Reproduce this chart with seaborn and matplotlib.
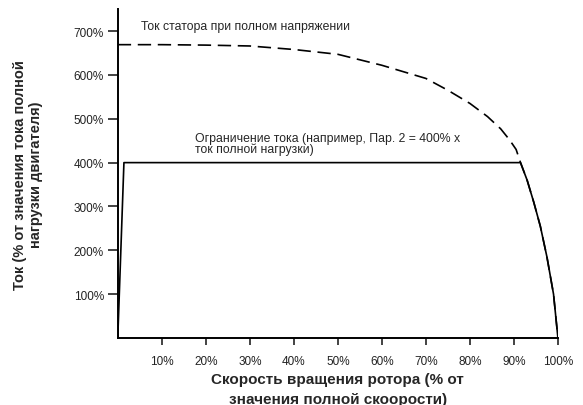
import matplotlib
matplotlib.use("Agg")
import matplotlib.pyplot as plt
import seaborn as sns
import pandas as pd

# данные
speed_stator = [0, 10, 20, 30, 40, 50, 60, 70, 75, 80, 84, 87, 89, 90.5, 91.5, 93, 94.5, 96, 97.5, 99, 100]
current_stator = [669, 669, 668, 666, 658, 647, 622, 592, 565, 535, 505, 477, 452, 430, 400, 360, 310, 255, 185, 100, 0]

speed_limit = [0, 1.4, 91.5, 93, 94.5, 96, 97.5, 99, 100]
current_limit = [0, 400, 400, 360, 310, 255, 185, 100, 0]

x_ticks = [10, 20, 30, 40, 50, 60, 70, 80, 90, 100]
y_ticks = [100, 200, 300, 400, 500, 600, 700]

sns.set_theme(style="ticks")
plt.rcParams['font.family'] = ['Liberation Sans', 'DejaVu Sans']

fig = plt.figure(figsize=(5.83, 4.06), dpi=100)
ax = fig.add_axes([0.202, 0.165, 0.755, 0.81])

df_s = pd.DataFrame({'speed': speed_stator, 'current': current_stator})
df_l = pd.DataFrame({'speed': speed_limit, 'current': current_limit})

sns.lineplot(data=df_s, x='speed', y='current', sort=False, ax=ax, color='black',
             linewidth=1.2, linestyle=(0, (8, 4)))
sns.lineplot(data=df_l, x='speed', y='current', sort=False, ax=ax, color='black',
             linewidth=1.2)

ax.set_xlim(0, 100)
ax.set_ylim(0, 750)
ax.set_xticks(x_ticks)
ax.set_xticklabels([f"{v}%" for v in x_ticks])
ax.set_yticks(y_ticks)
ax.set_yticklabels([f"{v}%" for v in y_ticks])
ax.tick_params(axis='both', labelsize=8.5, colors='#222222', width=1.2)
ax.tick_params(axis='y', length=7, pad=3)
ax.tick_params(axis='x', length=5, pad=7)
for s in ['left', 'bottom']:
    ax.spines[s].set_color('black')
    ax.spines[s].set_linewidth(1.4)
sns.despine(ax=ax)

ax.set_xlabel("Скорость вращения ротора (% от\nзначения полной скоорости)",
              fontsize=11, fontweight='bold', labelpad=4, linespacing=1.5)
ax.set_ylabel("Ток (% от значения тока полной\nнагрузки двигателя)",
              fontsize=10.5, fontweight='bold', labelpad=22, linespacing=1.15)

ax.text(5.2, 712, "Ток статора при полном напряжении", fontsize=8.8, va='center')
ax.text(17.5, 444, "Ограничение тока (например, Пар. 2 = 400% x\nток полной нагрузки)",
        fontsize=8.8, va='center', linespacing=0.9)

fig.savefig("out.png", dpi=100)
